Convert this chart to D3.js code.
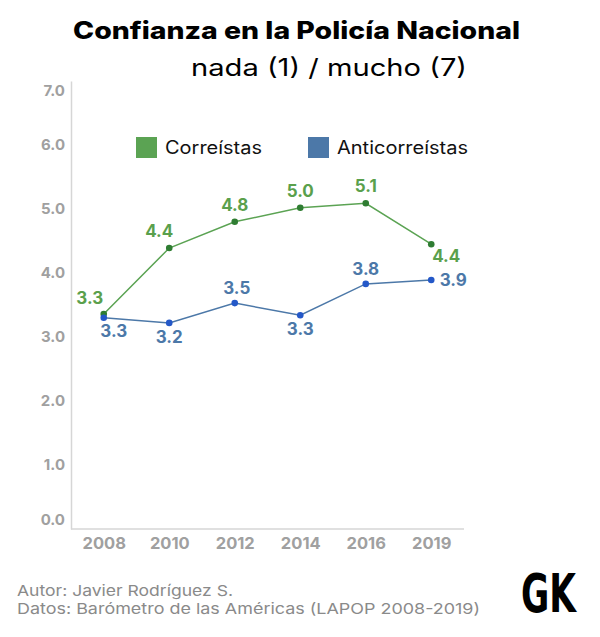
<!DOCTYPE html>
<html><head><meta charset="utf-8">
<script src="https://cdn.jsdelivr.net/npm/d3@7"></script>
<style>body{margin:0;background:#fff}</style>
</head><body>
<svg id="c" width="600" height="637"></svg>
<script>
const years = ["2008","2010","2012","2014","2016","2019"];
const correistas = [3.36, 4.39, 4.80, 5.02, 5.09, 4.45];
const anticorreistas = [3.30, 3.22, 3.53, 3.34, 3.83, 3.89];
const correistasLabels = ["3.3","4.4","4.8","5.0","5.1","4.4"];
const anticorreistasLabels = ["3.3","3.2","3.5","3.3","3.8","3.9"];
const yTicks = [0,1,2,3,4,5,6,7];
const seriesNames = ["Correístas","Anticorreístas"];

const svg = d3.select("#c");
const F = "Inter, 'Open Sans', sans-serif";
const x = d3.scalePoint().domain(years).range([71,464]).padding(0.5);
const y = d3.scaleLinear().domain([0,7]).range([529,81]);

svg.append("rect").attr("width",600).attr("height",637).attr("fill","#fff");

// title
svg.append("text").attr("x",73).attr("y",39)
  .attr("font-family",F).attr("font-weight",800).attr("font-size",24).attr("fill","#000")
  .attr("textLength",447).attr("lengthAdjust","spacingAndGlyphs")
  .text("Confianza en la Policía Nacional");
svg.append("text").attr("x",191).attr("y",76)
  .attr("font-family",F).attr("font-weight",400).attr("font-size",24).attr("fill","#000")
  .attr("textLength",276).attr("lengthAdjust","spacingAndGlyphs")
  .text("nada (1) / mucho (7)");

// axes
const yAxis = svg.append("g").attr("transform","translate(71,0)")
  .call(d3.axisLeft(y).tickValues(yTicks).tickFormat(d3.format(".1f")).tickSize(0).tickPadding(6));
yAxis.select(".domain").attr("stroke","#d6d6d6").attr("stroke-width",1.5);
yAxis.selectAll("text").attr("font-family",F).attr("font-weight",700).attr("font-size",15).attr("fill","#a0a0a0")
  .attr("dy", d => d===7 ? "0.95em" : d===0 ? "-0.3em" : "0.32em");

const xAxis = svg.append("g").attr("transform","translate(0,529)")
  .call(d3.axisBottom(x).tickSize(0).tickPadding(8));
xAxis.select(".domain").attr("stroke","#d6d6d6").attr("stroke-width",1.5).attr("d","M71,0H464");
xAxis.selectAll("text").attr("font-family",F).attr("font-weight",700).attr("font-size",16.5).attr("fill","#a0a0a0");

// lines
const line = d3.line().x((d,i)=>x(years[i])).y(d=>y(d));
const series = [
  {vals:correistas, labels:correistasLabels, line:"#5ba353", dot:"#2f7d32", lab:"#5aa04c",
   off:[[-14,-10],[-10,-11],[0,-11],[0,-11],[0,-11],[15,18]]},
  {vals:anticorreistas, labels:anticorreistasLabels, line:"#4c78a8", dot:"#2458c8", lab:"#4c78a8",
   off:[[10,19],[0,20],[2,-9],[0,20],[0,-9],[22,6]]}
];
series.forEach(s=>{
  svg.append("path").attr("d",line(s.vals)).attr("fill","none").attr("stroke",s.line).attr("stroke-width",1.5);
  svg.selectAll(null).data(s.vals).enter().append("circle")
    .attr("cx",(d,i)=>x(years[i])).attr("cy",d=>y(d)).attr("r",3.3).attr("fill",s.dot);
  svg.selectAll(null).data(s.vals).enter().append("text")
    .attr("x",(d,i)=>x(years[i])+s.off[i][0]).attr("y",(d,i)=>y(d)+s.off[i][1])
    .attr("text-anchor","middle").attr("font-family",F).attr("font-weight",700).attr("font-size",17)
    .attr("fill",s.lab).text((d,i)=>s.labels[i]);
});

// legend
const leg = [{n:seriesNames[0],c:"#5ba353",x:136,w:97},{n:seriesNames[1],c:"#4c78a8",x:308,w:131}];
leg.forEach(l=>{
  svg.append("rect").attr("x",l.x).attr("y",137).attr("width",21).attr("height",21).attr("fill",l.c);
  svg.append("text").attr("x",l.x+29).attr("y",154).attr("font-family",F).attr("font-size",18)
    .attr("fill","#111").attr("textLength",l.w).attr("lengthAdjust","spacingAndGlyphs").text(l.n);
});

// footer
svg.append("text").attr("x",17).attr("y",596).attr("font-family",F).attr("font-size",15).attr("fill","#8a8a8a")
  .attr("textLength",216).attr("lengthAdjust","spacingAndGlyphs")
  .text("Autor: Javier Rodríguez S.");
svg.append("text").attr("x",17).attr("y",614).attr("font-family",F).attr("font-size",15).attr("fill","#8a8a8a")
  .attr("textLength",463).attr("lengthAdjust","spacingAndGlyphs")
  .text("Datos: Barómetro de las Américas (LAPOP 2008-2019)");
svg.append("text").attr("x",521).attr("y",612).attr("font-family","'Liberation Sans Narrow', 'DejaVu Sans Condensed', sans-serif")
  .attr("font-weight",700).attr("font-size",54).attr("fill","#000")
  .attr("textLength",55).attr("lengthAdjust","spacingAndGlyphs").text("GK");
</script>
</body></html>
